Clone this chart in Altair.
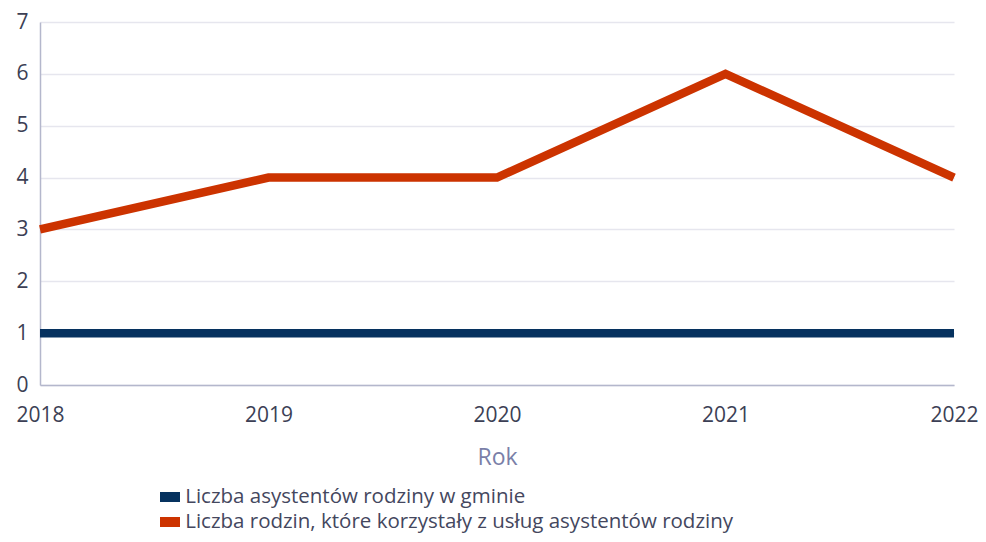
import altair as alt
import pandas as pd

years = [2018, 2019, 2020, 2021, 2022]
asystenci = [1, 1, 1, 1, 1]
rodziny = [3, 4, 4, 6, 4]
series_names = [
    "Liczba asystentów rodziny w gminie",
    "Liczba rodzin, które korzystały z usług asystentów rodziny",
]
colors = ["#06325f", "#cc3300"]

rows = []
for y, v in zip(years, asystenci):
    rows.append({"Rok": y, "Wartość": v, "Seria": series_names[0]})
for y, v in zip(years, rodziny):
    rows.append({"Rok": y, "Wartość": v, "Seria": series_names[1]})
df = pd.DataFrame(rows)

FONT = "Open Sans"

# legend swatch: a solid block built from thin horizontal strokes
swatch_path = "".join(f"M-1,{(k - 4.5) / 10:.2f}H1" for k in range(10))

chart = alt.Chart(df).mark_line(strokeWidth=8.5, strokeCap="butt", strokeJoin="miter").encode(
    x=alt.X("Rok:Q",
            scale=alt.Scale(domain=[2018, 2022], nice=False, zero=False),
            axis=alt.Axis(values=years, format="d", title="Rok", grid=False, ticks=False,
                          labelFlush=False, labelPadding=19, titlePadding=21,
                          labelFontSize=21, titleFontSize=23, titleFontWeight="normal",
                          titleColor="#7a7fa8", labelColor="#3c3f55",
                          domainColor="#b4b7cc", domainWidth=1.5)),
    y=alt.Y("Wartość:Q",
            scale=alt.Scale(domain=[0, 7], nice=False),
            axis=alt.Axis(values=list(range(0, 8)), title=None, ticks=False,
                          labelPadding=12, labelFontSize=21, labelColor="#3c3f55",
                          gridColor="#e6e6ee", gridWidth=1.5,
                          domainColor="#b4b7cc", domainWidth=1.5)),
    color=alt.Color("Seria:N",
                    scale=alt.Scale(domain=series_names, range=colors),
                    legend=alt.Legend(title=None, orient="none", legendX=119, legendY=464,
                                      direction="vertical", columns=1,
                                      symbolType=swatch_path,
                                      symbolSize=400, symbolStrokeWidth=1.2,
                                      labelFontSize=20.5, labelColor="#44475e",
                                      labelOffset=4.2, rowPadding=3,
                                      labelLimit=900)),
    order=alt.Order("Rok:Q"),
).properties(
    width=914,
    height=363,
    padding={"left": 32, "top": 14, "right": 24, "bottom": 149},
    autosize=alt.AutoSizeParams(type="none"),
).configure(
    font=FONT,
).configure_view(
    stroke=None,
)

chart.save("out.html", embed_options={"renderer": "svg", "actions": False})
